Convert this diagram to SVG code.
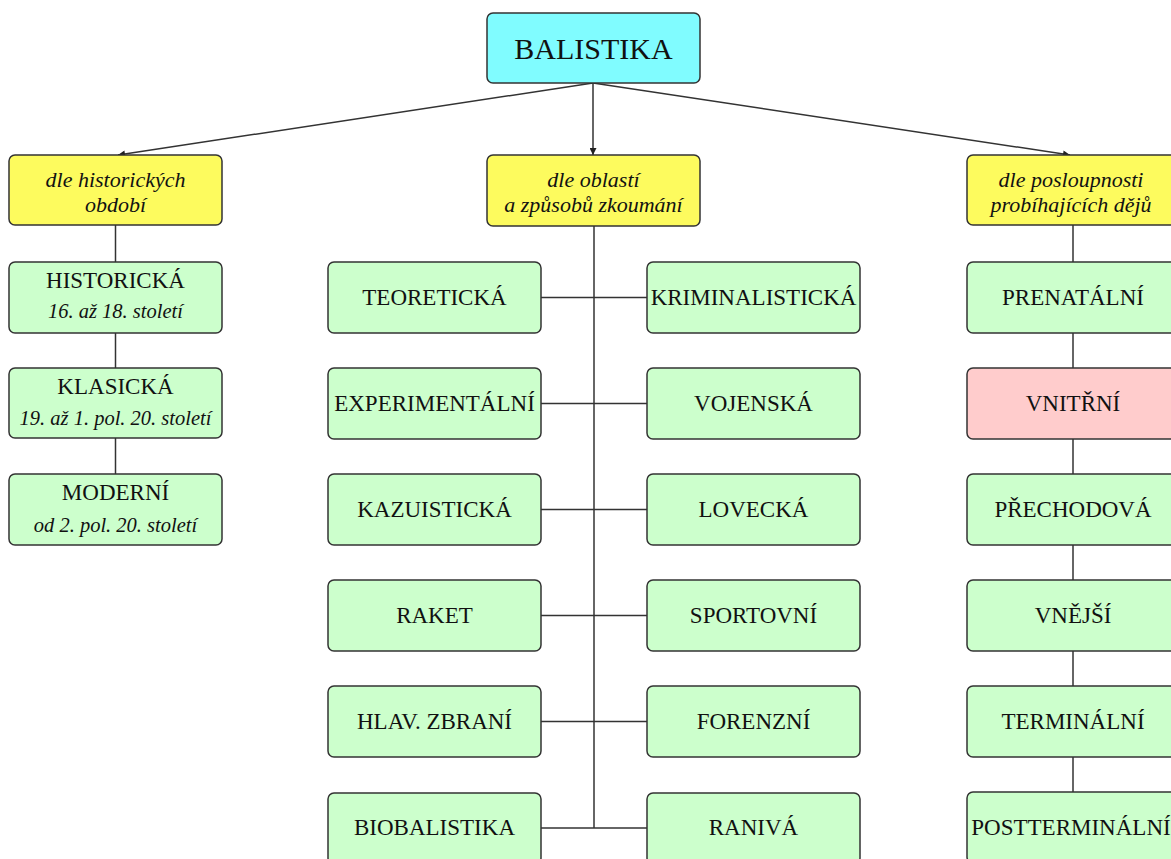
<svg xmlns="http://www.w3.org/2000/svg" width="1171" height="859" viewBox="0 0 1171 859">
  <style>
    .box { stroke: #333; stroke-width: 1.5; }
    .root { fill: #80FCFF; }
    .cat { fill: #FDFB5E; }
    .item { fill: #CCFFCC; }
    .hot { fill: #FFCCCC; }
    .t { font-family: "Liberation Serif", "Times New Roman", serif; fill: #111; text-anchor: middle; }
    .big { font-size: 30px; }
    .lbl { font-size: 23px; }
    .it { font-size: 22px; font-style: italic; }
    .sub { font-size: 20.5px; font-style: italic; }
    .conn { stroke: #333; stroke-width: 1.5; fill: none; }
  </style>
  <defs>
    <marker id="arr" viewBox="0 0 10 10" refX="10" refY="5" markerWidth="8" markerHeight="7" markerUnits="userSpaceOnUse" orient="auto">
      <path d="M0,0 L10,5 L0,10 z" fill="#222"/>
    </marker>
  </defs>
  <rect width="1171" height="859" fill="#fff"/>

  <g id="connectors">
    <line class="conn" x1="593" y1="83" x2="118" y2="155" marker-end="url(#arr)"/>
    <line class="conn" x1="593" y1="83" x2="593" y2="155" marker-end="url(#arr)"/>
    <line class="conn" x1="593" y1="83" x2="1070" y2="155" marker-end="url(#arr)"/>
    <!-- left column chain -->
    <line class="conn" x1="115.5" y1="225" x2="115.5" y2="262"/>
    <line class="conn" x1="115.5" y1="333" x2="115.5" y2="368"/>
    <line class="conn" x1="115.5" y1="438" x2="115.5" y2="474"/>
    <!-- middle trunk and branches -->
    <line class="conn" x1="594" y1="226" x2="594" y2="828"/>
    <line class="conn" x1="541" y1="297.5" x2="647" y2="297.5"/>
    <line class="conn" x1="541" y1="403.5" x2="647" y2="403.5"/>
    <line class="conn" x1="541" y1="509.5" x2="647" y2="509.5"/>
    <line class="conn" x1="541" y1="615.5" x2="647" y2="615.5"/>
    <line class="conn" x1="541" y1="721.5" x2="647" y2="721.5"/>
    <line class="conn" x1="541" y1="828" x2="647" y2="828"/>
    <!-- right column chain -->
    <line class="conn" x1="1073" y1="225" x2="1073" y2="262"/>
    <line class="conn" x1="1073" y1="333" x2="1073" y2="368"/>
    <line class="conn" x1="1073" y1="439" x2="1073" y2="474"/>
    <line class="conn" x1="1073" y1="545" x2="1073" y2="580"/>
    <line class="conn" x1="1073" y1="651" x2="1073" y2="686"/>
    <line class="conn" x1="1073" y1="757" x2="1073" y2="792"/>
  </g>

  <g id="balistika">
    <rect class="box root" x="487" y="13" width="213" height="70" rx="6"/>
    <text class="t big" x="593.5" y="59">BALISTIKA</text>
  </g>

  <g id="cat-historicke">
    <rect class="box cat" x="9" y="155" width="213" height="70" rx="6"/>
    <text class="t it" x="115.5" y="187">dle historických</text>
    <text class="t it" x="115.5" y="212">období</text>
  </g>
  <g id="cat-oblasti">
    <rect class="box cat" x="487" y="155" width="213" height="71" rx="6"/>
    <text class="t it" x="593.5" y="187">dle oblastí</text>
    <text class="t it" x="593.5" y="212">a způsobů zkoumání</text>
  </g>
  <g id="cat-posloupnost">
    <rect class="box cat" x="967" y="155" width="213" height="70" rx="6"/>
    <text class="t it" x="1071" y="187">dle posloupnosti</text>
    <text class="t it" x="1071" y="212">probíhajících dějů</text>
  </g>

  <!-- historical periods -->
  <g id="historicka">
    <rect class="box item" x="9" y="262" width="213" height="71" rx="6"/>
    <text class="t lbl" x="115.5" y="288">HISTORICKÁ</text>
    <text class="t sub" x="115.5" y="318">16. až 18. století</text>
  </g>
  <g id="klasicka">
    <rect class="box item" x="9" y="368" width="213" height="70" rx="6"/>
    <text class="t lbl" x="115.5" y="394">KLASICKÁ</text>
    <text class="t sub" x="115.5" y="425">19. až 1. pol. 20. století</text>
  </g>
  <g id="moderni">
    <rect class="box item" x="9" y="474" width="213" height="71" rx="6"/>
    <text class="t lbl" x="115.5" y="500">MODERNÍ</text>
    <text class="t sub" x="115.5" y="532">od 2. pol. 20. století</text>
  </g>

  <!-- fields, left side -->
  <g id="teoreticka">
    <rect class="box item" x="328" y="262" width="213" height="71" rx="6"/>
    <text class="t lbl" x="434.5" y="305">TEORETICKÁ</text>
  </g>
  <g id="experimentalni">
    <rect class="box item" x="328" y="368" width="213" height="71" rx="6"/>
    <text class="t lbl" x="434.5" y="411">EXPERIMENTÁLNÍ</text>
  </g>
  <g id="kazuisticka">
    <rect class="box item" x="328" y="474" width="213" height="71" rx="6"/>
    <text class="t lbl" x="434.5" y="517">KAZUISTICKÁ</text>
  </g>
  <g id="raket">
    <rect class="box item" x="328" y="580" width="213" height="71" rx="6"/>
    <text class="t lbl" x="434.5" y="623">RAKET</text>
  </g>
  <g id="hlav-zbrani">
    <rect class="box item" x="328" y="686" width="213" height="71" rx="6"/>
    <text class="t lbl" x="434.5" y="729">HLAV. ZBRANÍ</text>
  </g>
  <g id="biobalistika">
    <rect class="box item" x="328" y="793" width="213" height="71" rx="6"/>
    <text class="t lbl" x="434.5" y="835">BIOBALISTIKA</text>
  </g>

  <!-- fields, right side -->
  <g id="kriminalisticka">
    <rect class="box item" x="647" y="262" width="213" height="71" rx="6"/>
    <text class="t lbl" x="753.5" y="305">KRIMINALISTICKÁ</text>
  </g>
  <g id="vojenska">
    <rect class="box item" x="647" y="368" width="213" height="71" rx="6"/>
    <text class="t lbl" x="753.5" y="411">VOJENSKÁ</text>
  </g>
  <g id="lovecka">
    <rect class="box item" x="647" y="474" width="213" height="71" rx="6"/>
    <text class="t lbl" x="753.5" y="517">LOVECKÁ</text>
  </g>
  <g id="sportovni">
    <rect class="box item" x="647" y="580" width="213" height="71" rx="6"/>
    <text class="t lbl" x="753.5" y="623">SPORTOVNÍ</text>
  </g>
  <g id="forenzni">
    <rect class="box item" x="647" y="686" width="213" height="71" rx="6"/>
    <text class="t lbl" x="753.5" y="729">FORENZNÍ</text>
  </g>
  <g id="raniva">
    <rect class="box item" x="647" y="793" width="213" height="71" rx="6"/>
    <text class="t lbl" x="753.5" y="835">RANIVÁ</text>
  </g>

  <!-- sequence of processes -->
  <g id="prenatalni">
    <rect class="box item" x="967" y="262" width="213" height="71" rx="6"/>
    <text class="t lbl" x="1073" y="305">PRENATÁLNÍ</text>
  </g>
  <g id="vnitrni">
    <rect class="box hot" x="967" y="368" width="213" height="71" rx="6"/>
    <text class="t lbl" x="1073" y="411">VNITŘNÍ</text>
  </g>
  <g id="prechodova">
    <rect class="box item" x="967" y="474" width="213" height="71" rx="6"/>
    <text class="t lbl" x="1073" y="517">PŘECHODOVÁ</text>
  </g>
  <g id="vnejsi">
    <rect class="box item" x="967" y="580" width="213" height="71" rx="6"/>
    <text class="t lbl" x="1073" y="623">VNĚJŠÍ</text>
  </g>
  <g id="terminalni">
    <rect class="box item" x="967" y="686" width="213" height="71" rx="6"/>
    <text class="t lbl" x="1073" y="729">TERMINÁLNÍ</text>
  </g>
  <g id="postterminalni">
    <rect class="box item" x="967" y="792" width="213" height="71" rx="6"/>
    <text class="t lbl" x="1071" y="835">POSTTERMINÁLNÍ</text>
  </g>
</svg>
